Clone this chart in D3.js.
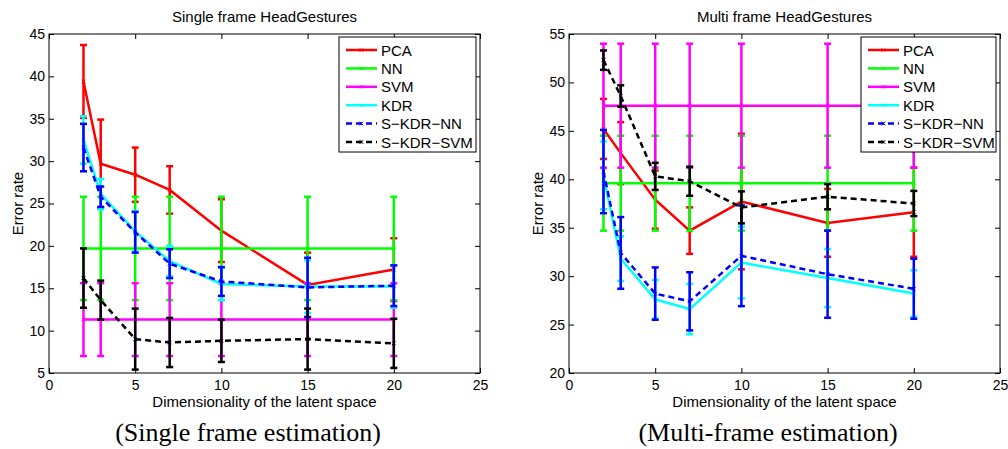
<!DOCTYPE html>
<html>
<head>
<meta charset="utf-8">
<script src="https://cdn.jsdelivr.net/npm/d3@7"></script>
<style>
    body { margin: 0; background: #fff; }
    svg { display: block; font-family: "Liberation Sans", Arial, sans-serif; }
</style>
</head>
<body>
<svg id="chart" width="1008" height="449"></svg>
<script>
let dims = [2, 3, 5, 7, 10, 15, 20];
let xTicks = [0, 5, 10, 15, 20, 25];
let seriesNames = ["PCA", "NN", "SVM", "KDR", "S\u2212KDR\u2212NN", "S\u2212KDR\u2212SVM"];
let seriesColors = ["#ff0000", "#00ff00", "#ff00ff", "#00ffff", "#0000ff", "#000000"];
let seriesDashed = [false, false, false, false, true, true];

// Single frame (left)
let singleYTicks = [5, 10, 15, 20, 25, 30, 35, 40, 45];
let singlePCA = [39.4, 29.7, 28.4, 26.6, 21.8, 15.4, 17.2];
let singlePCAErr = [4.3, 5.2, 3.2, 2.8, 3.7, 3.8, 3.7];
let singleNN = [19.7, 19.7, 19.7, 19.7, 19.7, 19.7, 19.7];
let singleNNErr = [6.1, 6.1, 6.1, 6.1, 6.1, 6.1, 6.1];
let singleSVM = [11.3, 11.3, 11.3, 11.3, 11.3, 11.3, 11.3];
let singleSVMErr = [4.3, 4.3, 4.3, 4.3, 4.3, 4.3, 4.3];
let singleKDR = [32.5, 26.1, 21.7, 18.2, 15.5, 15.2, 15.2];
let singleKDRErr = [2.8, 1.8, 2.4, 1.8, 1.9, 3.1, 2.5];
let singleSKDRNN = [31.6, 25.8, 21.6, 17.9, 15.8, 15.1, 15.3];
let singleSKDRNNErr = [2.8, 1.2, 2.4, 1.7, 1.7, 3.5, 2.4];
let singleSKDRSVM = [16.2, 13.6, 9.0, 8.6, 8.8, 9.0, 8.5];
let singleSKDRSVMErr = [3.5, 2.3, 3.6, 2.9, 2.5, 3.6, 2.9];

// Multi frame (right)
let multiYTicks = [20, 25, 30, 35, 40, 45, 50, 55];
let multiPCA = [45.2, 42.7, 37.9, 34.7, 37.7, 35.5, 36.6];
let multiPCAErr = [3.1, 3.2, 3.0, 2.4, 7.0, 3.5, 4.6];
let multiNN = [39.6, 39.6, 39.6, 39.6, 39.6, 39.6, 39.6];
let multiNNErr = [4.9, 4.9, 4.9, 4.9, 4.9, 4.9, 4.9];
let multiSVM = [47.6, 47.6, 47.6, 47.6, 47.6, 47.6, 47.6];
let multiSVMErr = [6.4, 6.4, 6.4, 6.4, 6.4, 6.4, 6.4];
let multiKDR = [40.4, 31.8, 27.6, 26.6, 31.4, 29.8, 28.2];
let multiKDRErr = [3.5, 2.3, 2.0, 2.6, 3.7, 3.0, 2.4];
let multiSKDRNN = [40.8, 32.4, 28.2, 27.4, 32.1, 30.2, 28.7];
let multiSKDRNNErr = [4.3, 3.7, 2.7, 3.0, 5.2, 4.5, 3.1];
let multiSKDRSVM = [52.3, 48.6, 40.3, 39.8, 37.1, 38.2, 37.5];
let multiSKDRSVMErr = [1.0, 1.1, 1.4, 1.5, 1.65, 1.3, 1.3];

let svg = d3.select("#chart");

function drawPanel(p) {
    let x = d3.scaleLinear().domain([0, 25]).range([p.left, p.right]);
    let y = d3.scaleLinear().domain([p.yTicks[0], p.yTicks[p.yTicks.length - 1]]).range([p.bottom, p.top]);
    let g = svg.append("g");

    // Ticks on all four sides, pointing inward
    let bottomAxis = g.append("g")
        .attr("transform", `translate(0,${p.bottom})`)
        .call(d3.axisBottom(x).tickValues(xTicks).tickSizeInner(-5).tickSizeOuter(0).tickPadding(7));
    let topAxis = g.append("g")
        .attr("transform", `translate(0,${p.top})`)
        .call(d3.axisTop(x).tickValues(xTicks).tickSizeInner(-5).tickSizeOuter(0).tickFormat(""));
    let leftAxis = g.append("g")
        .attr("transform", `translate(${p.left},0)`)
        .call(d3.axisLeft(y).tickValues(p.yTicks).tickSizeInner(-5).tickSizeOuter(0).tickPadding(4));
    let rightAxis = g.append("g")
        .attr("transform", `translate(${p.right},0)`)
        .call(d3.axisRight(y).tickValues(p.yTicks).tickSizeInner(-5).tickSizeOuter(0).tickFormat(""));
    [bottomAxis, topAxis, leftAxis, rightAxis].forEach(a => {
        a.select(".domain").remove();
        a.selectAll("line").attr("stroke", "#000");
        a.selectAll("text").attr("fill", "#000").attr("font-size", 14)
            .attr("font-family", '"Liberation Sans", Arial, sans-serif');
    });

    // Series: error bars and lines
    let line = d3.line().x((d, i) => x(dims[i])).y(d => y(d));
    p.means.forEach((vals, s) => {
        let col = seriesColors[s];
        let sg = g.append("g");
        vals.forEach((v, i) => {
            let e = p.errs[s][i];
            let cx = x(dims[i]);
            sg.append("line").attr("x1", cx).attr("x2", cx)
                .attr("y1", y(v - e)).attr("y2", y(v + e))
                .attr("stroke", col).attr("stroke-width", 2.5);
            [v - e, v + e].forEach(c => {
                sg.append("line").attr("x1", cx - 3.5).attr("x2", cx + 3.5)
                    .attr("y1", y(c)).attr("y2", y(c))
                    .attr("stroke", col).attr("stroke-width", 2.5);
            });
        });
        sg.append("path")
            .datum(vals)
            .attr("d", line)
            .attr("fill", "none")
            .attr("stroke", col)
            .attr("stroke-width", 2.5)
            .attr("stroke-dasharray", seriesDashed[s] ? "6,4" : null);
        vals.forEach((v, i) => {
            drawMarker(sg, x(dims[i]), y(v), col);
        });
    });

    // Box
    g.append("rect")
        .attr("x", p.left).attr("y", p.top)
        .attr("width", p.right - p.left).attr("height", p.bottom - p.top)
        .attr("fill", "none").attr("stroke", "#000").attr("stroke-width", 1);

    // Title and axis labels
    let cx = (p.left + p.right) / 2;
    g.append("text").attr("x", cx).attr("y", 22).attr("text-anchor", "middle")
        .attr("font-size", 15).text(p.title);
    g.append("text").attr("x", cx).attr("y", 407).attr("text-anchor", "middle")
        .attr("font-size", 15).text("Dimensionality of the latent space");
    g.append("text")
        .attr("transform", `translate(${p.left - 26},${(p.top + p.bottom) / 2}) rotate(-90)`)
        .attr("text-anchor", "middle").attr("font-size", 15).text("Error rate");
    g.append("text").attr("x", p.captionX).attr("y", 441).attr("text-anchor", "middle")
        .attr("font-family", '"Liberation Serif", "Times New Roman", serif')
        .attr("font-size", 26).text(p.caption);

    // Legend
    let lx = p.right - 4 - p.legendW;
    let ly = p.top + 3;
    let lg = g.append("g");
    lg.append("rect").attr("x", lx).attr("y", ly)
        .attr("width", p.legendW).attr("height", 115)
        .attr("fill", "#fff").attr("stroke", "#000").attr("stroke-width", 1);
    seriesNames.forEach((name, s) => {
        let yy = ly + 13 + s * 18.4;
        lg.append("line").attr("x1", lx + 7).attr("x2", lx + 38)
            .attr("y1", yy).attr("y2", yy)
            .attr("stroke", seriesColors[s]).attr("stroke-width", 2.5)
            .attr("stroke-dasharray", seriesDashed[s] ? "6,4" : null);
        drawMarker(lg, lx + 22.5, yy, seriesColors[s]);
        lg.append("text").attr("x", lx + 42).attr("y", yy + 5.5)
            .attr("font-size", 15).text(name);
    });
}

function drawMarker(g, cx, cy, col) {
    let r = 1.8;
    g.append("path")
        .attr("d", `M${cx - r},${cy - r}L${cx + r},${cy + r}M${cx - r},${cy + r}L${cx + r},${cy - r}`)
        .attr("stroke", col).attr("stroke-width", 1).attr("fill", "none");
}

drawPanel({
    left: 49, right: 480, top: 34, bottom: 373,
    yTicks: singleYTicks,
    means: [singlePCA, singleNN, singleSVM, singleKDR, singleSKDRNN, singleSKDRSVM],
    errs: [singlePCAErr, singleNNErr, singleSVMErr, singleKDRErr, singleSKDRNNErr, singleSKDRSVMErr],
    title: "Single frame HeadGestures",
    caption: "(Single frame estimation)",
    captionX: 248,
    legendW: 137
});

drawPanel({
    left: 569, right: 1000, top: 34, bottom: 373,
    yTicks: multiYTicks,
    means: [multiPCA, multiNN, multiSVM, multiKDR, multiSKDRNN, multiSKDRSVM],
    errs: [multiPCAErr, multiNNErr, multiSVMErr, multiKDRErr, multiSKDRNNErr, multiSKDRSVMErr],
    title: "Multi frame HeadGestures",
    caption: "(Multi-frame estimation)",
    captionX: 768,
    legendW: 135
});
</script>
</body>
</html>
